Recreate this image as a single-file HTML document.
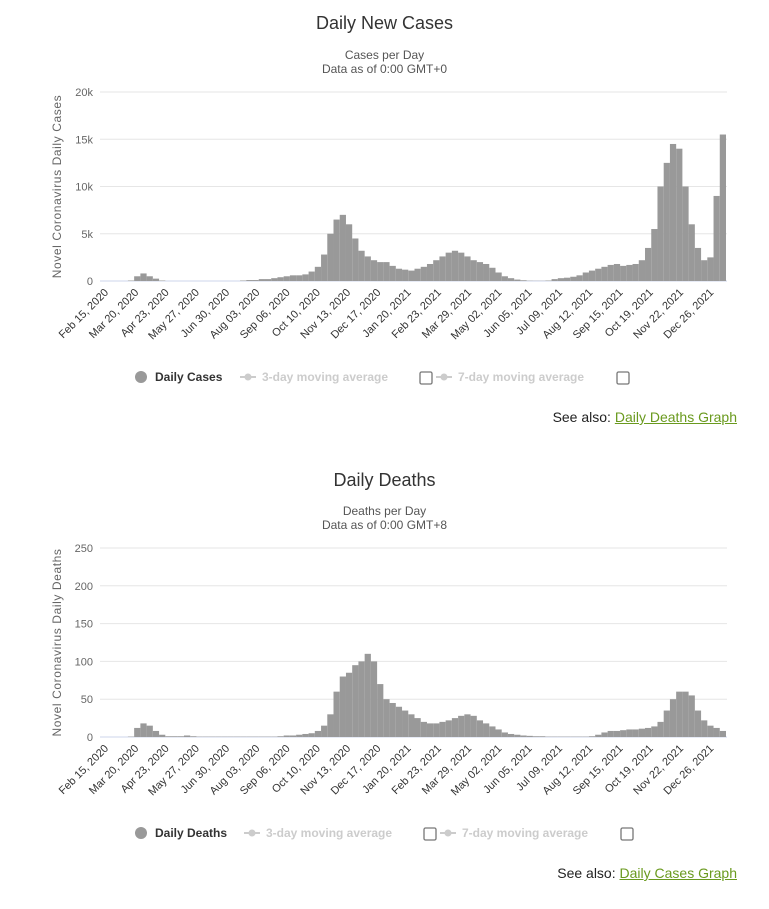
<!DOCTYPE html>
<html><head><meta charset="utf-8">
<style>
body{margin:0;width:769px;height:909px;background:#fff;font-family:"Liberation Sans",sans-serif;position:relative;overflow:hidden}
.t{position:absolute;left:0;width:769px;text-align:center;color:#333}
.title{font-size:18px}
.sub{font-size:12px;color:#555}
.see{position:absolute;right:32px;font-size:14px;color:#222}
.see a{color:#6a9a1e;text-decoration:underline}
svg{position:absolute;left:0}
</style></head><body>
<div class="t title" style="top:13px">Daily New Cases</div>
<div class="t sub" style="top:48px">Cases per Day<br>Data as of 0:00 GMT+0</div>
<svg id="c1" width="769" height="400" style="top:0"></svg>
<div class="see" style="top:409px">See also: <a>Daily Deaths Graph</a></div>

<div class="t title" style="top:470px">Daily Deaths</div>
<div class="t sub" style="top:504px">Deaths per Day<br>Data as of 0:00 GMT+8</div>
<svg id="c2" width="769" height="400" style="top:456px"></svg>
<div class="see" style="top:865px">See also: <a>Daily Cases Graph</a></div>

<script>
// x tick labels (every 34 days from Feb 15, 2020)
const tickLabels=["Feb 15, 2020","Mar 20, 2020","Apr 23, 2020","May 27, 2020","Jun 30, 2020","Aug 03, 2020","Sep 06, 2020","Oct 10, 2020","Nov 13, 2020","Dec 17, 2020","Jan 20, 2021","Feb 23, 2021","Mar 29, 2021","May 02, 2021","Jun 05, 2021","Jul 09, 2021","Aug 12, 2021","Sep 15, 2021","Oct 19, 2021","Nov 22, 2021","Dec 26, 2021"];
// weekly daily-case values (thousands), week 0 = Feb 15, 2020
const casesWeekly=[0,0,0,0,0.05,0.5,0.8,0.5,0.25,0.05,0,0,0,0,0,0,0,0,0,0,0,0,0.05,0.1,0.1,0.2,0.2,0.3,0.4,0.5,0.6,0.6,0.7,1.0,1.5,2.8,5.0,6.5,7.0,6.0,4.5,3.2,2.6,2.2,2.0,2.0,1.6,1.3,1.2,1.1,1.3,1.5,1.8,2.2,2.6,3.0,3.2,3.0,2.6,2.2,2.0,1.8,1.4,0.9,0.5,0.3,0.15,0.08,0.03,0.02,0.02,0.05,0.2,0.3,0.35,0.45,0.6,0.9,1.1,1.3,1.5,1.7,1.8,1.6,1.7,1.8,2.2,3.5,5.5,10,12.5,14.5,14,10,6,3.5,2.2,2.5,9,15.5];
const casesTicks=[0,5,10,15,20];
const casesTickLabels=["0","5k","10k","15k","20k"];
// weekly daily-death values, week 0 = Feb 15, 2020
const deathsWeekly=[0,0,0,0,0.5,12,18,15,8,3,1,1,1,2,1,0.5,0.5,0.5,0.5,0.5,0.5,0.5,0.5,0.5,0.5,0.5,0.5,0.5,1,2,2,3,4,5,8,15,30,60,80,85,95,100,110,100,70,50,45,40,35,30,25,20,18,18,20,22,25,28,30,28,22,18,14,10,6,4,3,2,1.5,1,1,0.5,0.5,0.5,0.5,0.5,0.5,0.5,1,3,6,8,8,9,10,10,11,12,14,20,35,50,60,60,55,35,22,15,12,8];
const deathsTicks=[0,50,100,150,200,250];
const deathsTickLabels=["0","50","100","150","200","250"];

const NS="http://www.w3.org/2000/svg";
function mk(svg,tag,attrs,text){const e=document.createElementNS(NS,tag);for(const k in attrs)e.setAttribute(k,attrs[k]);if(text!==undefined)e.textContent=text;svg.appendChild(e);return e;}

function draw(svg,vals,ticks,tickLbls,yMax,top,bottom,yTitle,seriesName){
  const left=100,right=727,x0=103,pxDay=0.89;
  const xs=d=>x0+d*pxDay;
  const ys=v=>bottom-(v/yMax)*(bottom-top);
  ticks.forEach((t,i)=>{
    const g=mk(svg,'line',{x1:left,x2:right,y1:ys(t),y2:ys(t),stroke:i?'#e6e6e6':'#ccd6eb','stroke-width':1});
    
    
    const l=mk(svg,'text',{x:93,y:ys(t)+4,'text-anchor':'end','font-size':11,fill:'#666'},tickLbls[i]);
    
    
  });
  const yt=mk(svg,'text',{transform:`translate(61,${(top+bottom)/2}) rotate(-90)`,'text-anchor':'middle','font-size':12,'letter-spacing':'0.6',fill:'#666'},yTitle);
  
  
  vals.forEach((v,i)=>{
    const xa=Math.max(left,xs(i*7)),xb=Math.min(right,xs(i*7+7));
    if(xb<=xa||v<=0)return;
    const b=mk(svg,'rect',{x:xa,y:ys(v),width:xb-xa,height:bottom-ys(v),fill:'#999'});
    
    
  });
  tickLabels.forEach((s,i)=>{
    const x=xs(i*34);
    const t=mk(svg,'text',{transform:`translate(${x+6},${bottom+12}) rotate(-45)`,'text-anchor':'end','font-size':11,fill:'#333'},s);
    
    
  });
  const ly=bottom+96;
  const lg=mk(svg,'g',{});
  
  
  mk(lg,'circle',{cx:141,cy:ly,r:6,fill:'#999'});
  mk(lg,'text',{x:155,y:ly+4,'font-size':12,'font-weight':'bold',fill:'#333'},seriesName);
  const off=seriesName==='Daily Cases'?0:4;
  [[240+off,'3-day moving average',426+off],[436+off,'7-day moving average',623+off]].forEach(([x,txt,cb])=>{
    mk(lg,'line',{x1:x,x2:x+16,y1:ly,y2:ly,stroke:'#ccc','stroke-width':2});
    mk(lg,'circle',{cx:x+8,cy:ly,r:3.5,fill:'#ccc'});
    mk(lg,'text',{x:x+22,y:ly+4,'font-size':12,'font-weight':'bold',fill:'#ccc'},txt);
    const c=mk(lg,'rect',{x:cb-6,y:ly-5,width:12,height:12,rx:1.5,fill:'#fff',stroke:'#777','stroke-width':1.3});
    
    
  });
}
draw(document.getElementById('c1'),casesWeekly,casesTicks,casesTickLabels,20,92,281,'Novel Coronavirus Daily Cases','Daily Cases');
draw(document.getElementById('c2'),deathsWeekly,deathsTicks,deathsTickLabels,250,92,281,'Novel Coronavirus Daily Deaths','Daily Deaths');
</script>
</body></html>
